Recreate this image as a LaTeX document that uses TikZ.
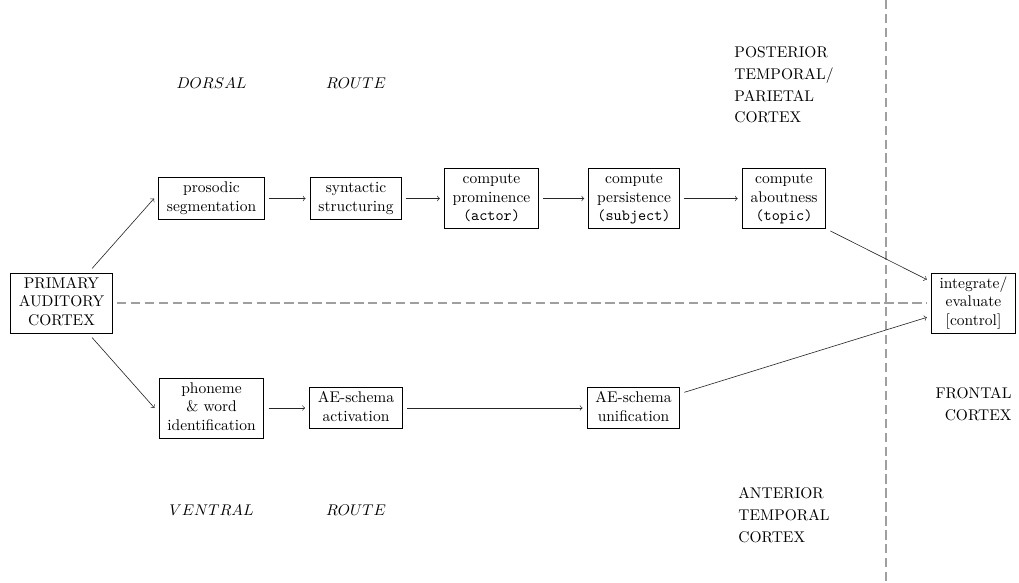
\documentclass[tikz,border=0pt]{standalone}
\newcommand\boxlines[1]{\begin{tabular}{@{}c@{}}#1\end{tabular}}
\begin{document}
\begin{tikzpicture}[x=0.645pt,y=-0.645pt,
  box/.style={draw, line width=0.5pt, inner xsep=5.3pt, inner ysep=1.3pt, outer sep=3pt},
  flow/.style={->, line width=0.4pt, black!85},
  guide/.style={gray!75, line width=0.8pt, dash pattern=on 6pt off 3pt},
  region/.style={align=left, inner sep=0pt},
  route/.style={inner sep=0pt}]
\useasboundingbox (0,0) rectangle (1019,583);

% processing stages
\node[box] (pac)   at (61.5,303)   {\boxlines{PRIMARY\\AUDITORY\\CORTEX}};
\node[box] (pros)  at (211.5,198.5){\boxlines{prosodic\\segmentation}};
\node[box] (synt)  at (356,198.5)  {\boxlines{syntactic\\structuring}};
\node[box] (prom)  at (491.5,198.5){\boxlines{compute\\prominence\\\texttt{(actor)}}};
\node[box] (pers)  at (634,198.5)  {\boxlines{compute\\persistence\\\texttt{(subject)}}};
\node[box] (about) at (784,198.5)  {\boxlines{compute\\aboutness\\\texttt{(topic)}}};
\node[box] (phon)  at (211.5,408)  {\boxlines{phoneme\\\& word\\identification}};
\node[box] (act)   at (356,408)    {\boxlines{AE-schema\\activation}};
\node[box] (unif)  at (633.5,408)  {\boxlines{AE-schema\\unification}};
\node[box] (integ) at (973.5,303)  {\boxlines{integrate/\\evaluate\\{[control]}}};

% region boundaries
\coordinate (vtop) at (886,0);
\coordinate (vbot) at (886,583);
\draw[guide] (vtop) -- (vbot);
\draw[guide] (pac) -- (integ);

% region and route labels
\node[route] (dorsal)  at (211.5,83) {$DORSAL$};
\node[route] (droute)  at (356,83)   {$ROUTE$};
\node[route] (ventral) at (211.5,510){$VENTRAL$};
\node[route] (vroute)  at (356,510)  {$ROUTE$};
\node[region] (post) at (784,85)  {POSTERIOR\\[2pt]TEMPORAL/\\[2pt]PARIETAL\\[2pt]CORTEX};
\node[region] (ant)  at (784,515) {ANTERIOR\\[2pt]TEMPORAL\\[2pt]CORTEX};
\node[region, align=right] (front) at (973.5,404) {FRONTAL\\[2pt]CORTEX};

% dorsal stream
\draw[flow] (pac) -- (pros.west);
\draw[flow] (pros) -- (synt);
\draw[flow] (synt) -- (prom);
\draw[flow] (prom) -- (pers);
\draw[flow] (pers) -- (about);
\draw[flow] (about.-35) -- (integ);

% ventral stream
\draw[flow] (pac) -- (phon.west);
\draw[flow] (phon) -- (act);
\draw[flow] (act) -- (unif);
\draw[flow] (unif) -- (integ);
\end{tikzpicture}
\end{document}
